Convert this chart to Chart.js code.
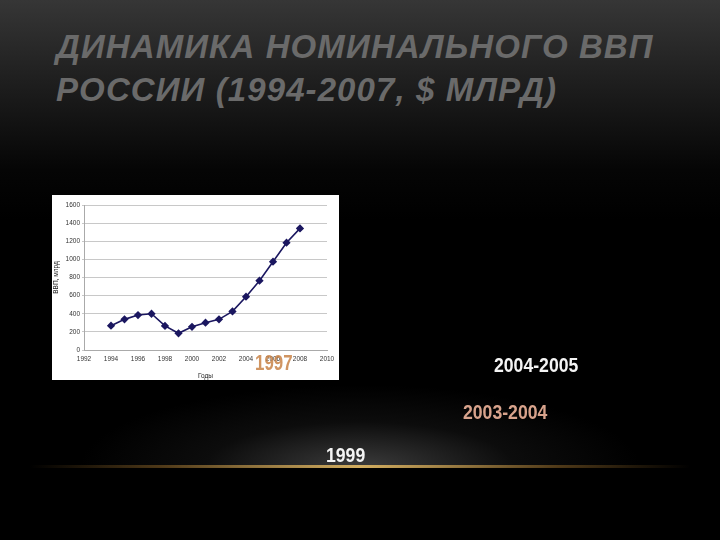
<!DOCTYPE html>
<html>
<head>
<meta charset="utf-8">
<script src="https://cdn.jsdelivr.net/npm/chart.js@4.4.0/dist/chart.umd.min.js"></script>
<style>
  html, body { margin: 0; padding: 0; }
  body {
    width: 720px; height: 540px; overflow: hidden; position: relative;
    background: linear-gradient(#363636 0px, #1c1c1c 90px, #050505 170px, #000 220px);
    font-family: "Liberation Sans", Arial, sans-serif;
  }
  #title {
    position: absolute; left: 56px; top: 25px;
    color: #6a6a6a; font-size: 33px; line-height: 43px;
    font-weight: bold; font-style: italic; letter-spacing: 1.1px;
  }
  #glow {
    position: absolute; left: 80px; top: 385px; width: 560px; height: 82px;
    background: radial-gradient(ellipse 50% 100% at 50% 100%, rgba(85,85,85,0.7), rgba(35,35,35,0.35) 55%, rgba(0,0,0,0) 100%);
  }
  #line {
    position: absolute; left: 30px; top: 465px; width: 660px; height: 3px;
    background: linear-gradient(90deg, rgba(0,0,0,0), rgba(140,100,40,0.55) 20%, #d3ae60 50%, rgba(140,100,40,0.55) 80%, rgba(0,0,0,0));
    filter: blur(0.6px);
  }
  #box {
    position: absolute; left: 52px; top: 195px; width: 287px; height: 185px; background: #fff;
  }
  .lbl {
    position: absolute; font-weight: bold; font-size: 21px; line-height: 24px;
    transform-origin: 0 0; transform: scaleX(0.84); white-space: nowrap;
  }
</style>
</head>
<body>
<div id="title">ДИНАМИКА НОМИНАЛЬНОГО ВВП<br>РОССИИ (1994-2007, $ МЛРД)</div>
<div id="glow"></div>
<div id="line"></div>
<div id="box"><canvas id="gdp" width="287" height="185"></canvas></div>
<div class="lbl" style="left:255px; top:351px; color:rgba(200,130,70,0.85); font-size:22px; transform:scaleX(0.77);">1997</div>
<div class="lbl" style="left:494px; top:353px; color:#f4f4f4;">2004-2005</div>
<div class="lbl" style="left:463px; top:400px; color:#d8a38c;">2003-2004</div>
<div class="lbl" style="left:326px; top:443px; color:#f4f4f4;">1999</div>
<script>
// Годы и номинальный ВВП, $ млрд
const years = [1994, 1995, 1996, 1997, 1998, 1999, 2000, 2001, 2002, 2003, 2004, 2005, 2006, 2007, 2008];
const gdp = [268, 338, 386, 400, 266, 184, 256, 301, 338, 426, 588, 765, 974, 1184, 1342];
const xTicks = [1992, 1994, 1996, 1998, 2000, 2002, 2004, 2006, 2008, 2010];
const yTicks = [0, 200, 400, 600, 800, 1000, 1200, 1400, 1600];

const tickFont = { family: 'Liberation Sans, Arial', size: 6.5 };

new Chart(document.getElementById('gdp'), {
  type: 'line',
  data: {
    datasets: [{
      data: years.map((y, i) => ({ x: y, y: gdp[i] })),
      borderColor: '#1b1760',
      backgroundColor: '#1b1760',
      borderWidth: 1.6,
      pointStyle: 'rectRot',
      pointRadius: 3,
      tension: 0
    }]
  },
  options: {
    responsive: false,
    animation: false,
    layout: { padding: { top: 10, right: 12, left: 0, bottom: 0 } },
    plugins: { legend: { display: false }, tooltip: { enabled: false } },
    scales: {
      x: {
        type: 'linear', min: xTicks[0], max: xTicks[xTicks.length - 1],
        afterBuildTicks: s => { s.ticks = xTicks.map(v => ({ value: v })); },
        afterFit: s => { s.height = 30; },
        grid: { display: false, drawTicks: true, tickLength: 3, color: '#999' },
        border: { color: '#aaa' },
        ticks: { font: tickFont, color: '#333', padding: 2, maxRotation: 0, callback: v => String(v) },
        title: { display: true, text: 'Годы', font: tickFont, color: '#222', padding: 0 }
      },
      y: {
        min: yTicks[0], max: yTicks[yTicks.length - 1],
        afterBuildTicks: s => { s.ticks = yTicks.map(v => ({ value: v })); },
        afterFit: s => { s.width = 32; },
        grid: { color: '#c8c8c8', drawTicks: true, tickLength: 2 },
        border: { color: '#aaa' },
        ticks: { font: tickFont, color: '#333', padding: 2, callback: v => String(v) },
        title: { display: true, text: 'ВВП, млрд', font: tickFont, color: '#222', padding: 0 }
      }
    }
  }
});
</script>
</body>
</html>
